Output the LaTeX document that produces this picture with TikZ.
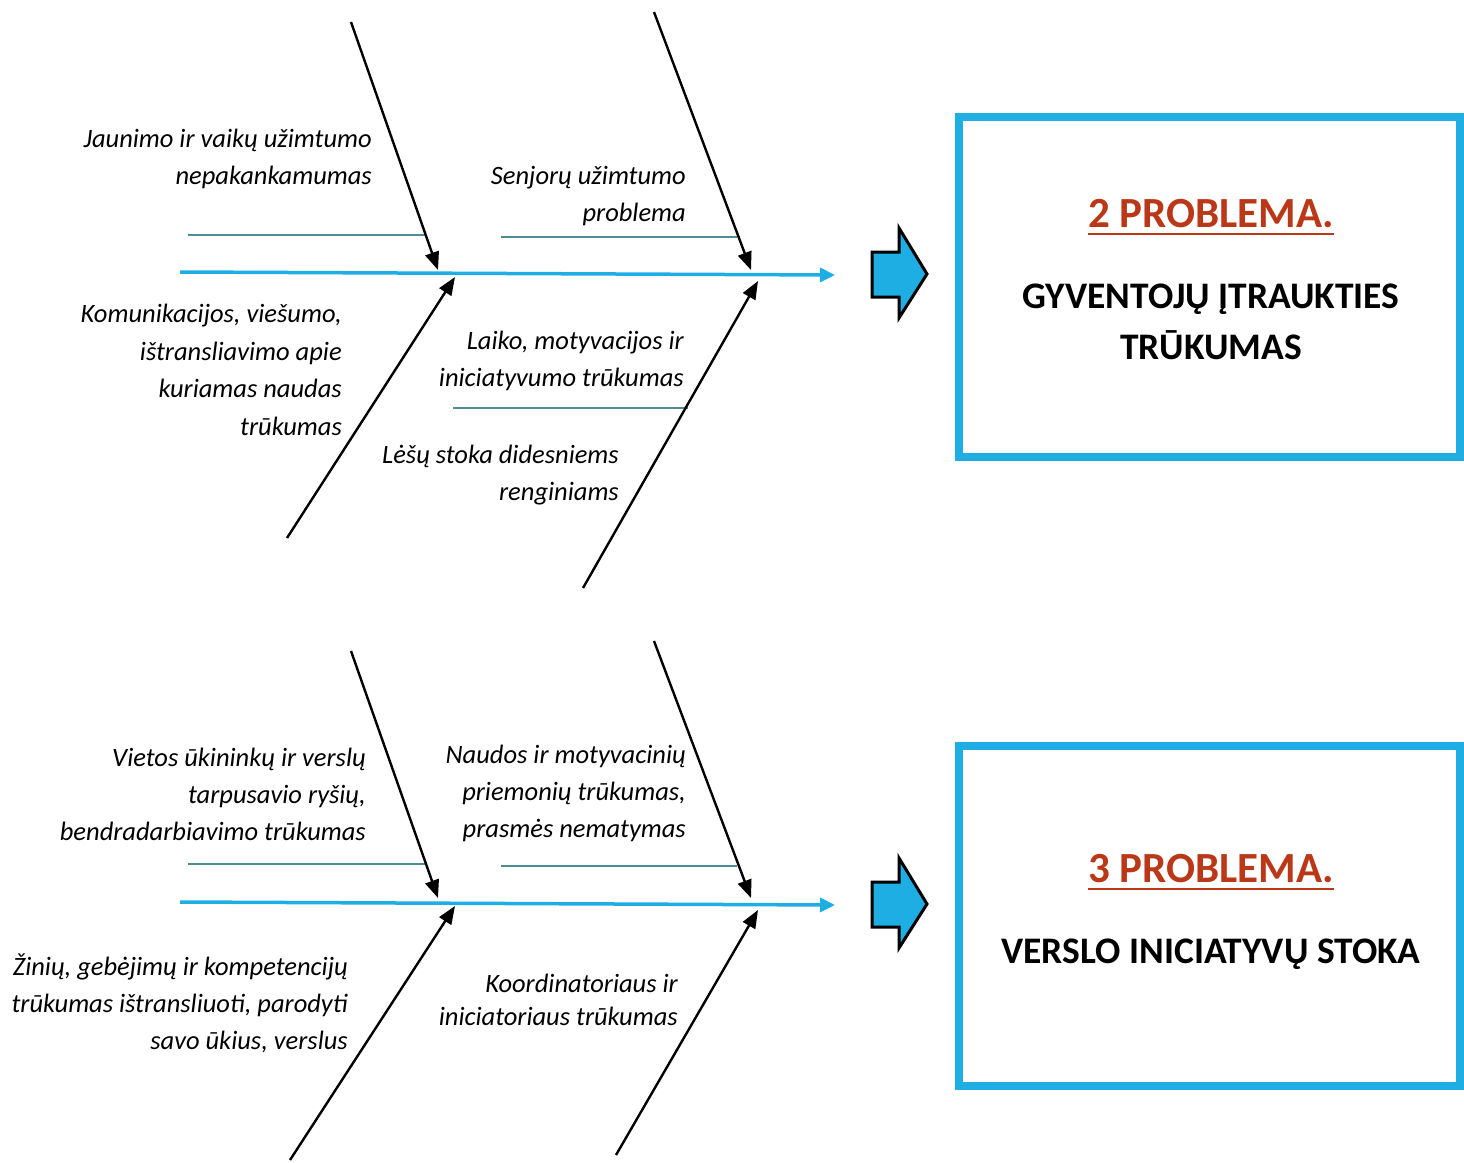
\documentclass[tikz,border=0pt]{standalone}
\usepackage{fontspec}
\setmainfont{Carlito}
\usetikzlibrary{arrows.meta,positioning}

\definecolor{spineblue}{RGB}{30,174,228}
\definecolor{ribteal}{RGB}{78,140,148}
\definecolor{probred}{RGB}{186,56,24}

\tikzset{
  cause/.style={font=\itshape\fontsize{26.5}{37}\selectfont, align=right, anchor=base east, inner sep=0pt},
  spine/.style={spineblue, line width=3.5pt, -{Triangle[length=15pt,width=14pt]}},
  bone/.style={black, line width=2.4pt, -{Triangle[length=18pt,width=14pt]}},
  rib/.style={ribteal, line width=1.2pt},
  probbox/.style={draw=spineblue, line width=8pt, minimum width=501pt, minimum height=340pt, inner sep=0pt},
  bigarrow/.style={fill=spineblue, draw=black, line width=3pt, line join=miter},
  probtitle/.style={font=\bfseries\fontsize{43}{48}\selectfont, text=probred, inner sep=0pt, anchor=base},
  probtext/.style={font=\bfseries\fontsize{37.5}{51}\selectfont, align=center, inner sep=0pt, anchor=base},
}

\begin{document}
\begin{tikzpicture}[x=1pt,y=-1pt]
  \useasboundingbox (0,0) rectangle (1464,1162);

  % Upper diagram
  \coordinate (s1a) at (180,272);
  \coordinate (s1b) at (835,275);
  \draw[spine] (s1a) -- (s1b);

  \coordinate (r1a) at (188,235);  \coordinate (r1b) at (425,235);
  \coordinate (r2a) at (501,237);  \coordinate (r2b) at (737,237);
  \coordinate (r3a) at (453,408);  \coordinate (r3b) at (688,408);
  \draw[rib] (r1a) -- (r1b);
  \draw[rib] (r2a) -- (r2b);
  \draw[rib] (r3a) -- (r3b);

  \coordinate (b1t) at (351,22);   \coordinate (b1h) at (438,270);
  \coordinate (b2t) at (654,12);   \coordinate (b2h) at (751,270);
  \coordinate (b3t) at (287,538);  \coordinate (b3h) at (455,277);
  \coordinate (b4t) at (583,588);  \coordinate (b4h) at (758,281);
  \draw[bone] (b1t) -- (b1h);
  \draw[bone] (b2t) -- (b2h);
  \draw[bone] (b3t) -- (b3h);
  \draw[bone] (b4t) -- (b4h);

  % causes (anchored at the baseline of the last line)
  \node[cause] (c1) at (372,184) {Jaunimo ir vaikų užimtumo\\nepakankamumas};
  \node[cause] (c2) at (686,221) {Senjorų užimtumo\\problema};
  \node[cause, font=\itshape\fontsize{26.5}{37.5}\selectfont] (c3) at (342,435) {Komunikacijos, viešumo,\\ištransliavimo apie\\kuriamas naudas\\trūkumas};
  \node[cause] (c4) at (684,386) {Laiko, motyvacijos ir\\iniciatyvumo trūkumas};
  \node[cause] (c5) at (619,500) {Lėšų stoka didesniems\\renginiams};

  \draw[bigarrow] (872,252) -- (899,252) -- (899,228) -- (927,274) -- (899,318) -- (899,297) -- (872,297) -- cycle;

  \node[probbox] (p2) at (1209.5,287) {};
  \node[probtitle] (p2t) at (1211,227) {2 PROBLEMA.};
  \draw[probred, line width=2.5pt] ([yshift=-7pt]p2t.base west) -- ([yshift=-7pt]p2t.base east);
  \node[probtext] (p2x) at (1211,359) {GYVENTOJŲ ĮTRAUKTIES\\TRŪKUMAS};

  % Lower diagram
  \coordinate (s2a) at (180,902);
  \coordinate (s2b) at (835,905);
  \draw[spine] (s2a) -- (s2b);

  \coordinate (r4a) at (188,864);  \coordinate (r4b) at (425,864);
  \coordinate (r5a) at (501,866);  \coordinate (r5b) at (737,866);
  \draw[rib] (r4a) -- (r4b);
  \draw[rib] (r5a) -- (r5b);

  \coordinate (b5t) at (351,651);  \coordinate (b5h) at (438,898);
  \coordinate (b6t) at (654,641);  \coordinate (b6h) at (751,898);
  \coordinate (b7t) at (290,1160); \coordinate (b7h) at (455,906);
  \coordinate (b8t) at (616,1155); \coordinate (b8h) at (758,910);
  \draw[bone] (b5t) -- (b5h);
  \draw[bone] (b6t) -- (b6h);
  \draw[bone] (b7t) -- (b7h);
  \draw[bone] (b8t) -- (b8h);

  \node[cause] (c6) at (366,840) {Vietos ūkininkų ir verslų\\tarpusavio ryšių,\\bendradarbiavimo trūkumas};
  \node[cause] (c7) at (686,837) {Naudos ir motyvacinių\\priemonių trūkumas,\\prasmės nematymas};
  \node[cause] (c8) at (348,1049) {Žinių, gebėjimų ir kompetencijų\\trūkumas ištransliuoti, parodyti\\savo ūkius, verslus};
  \node[cause, font=\itshape\fontsize{26.5}{33}\selectfont] (c9) at (678,1025) {Koordinatoriaus ir\\iniciatoriaus trūkumas};

  \draw[bigarrow] (872,882) -- (899,882) -- (899,858) -- (927,904) -- (899,948) -- (899,927) -- (872,927) -- cycle;

  \node[probbox] (p3) at (1209.5,916) {};
  \node[probtitle] (p3t) at (1211,882) {3 PROBLEMA.};
  \draw[probred, line width=2.5pt] ([yshift=-7pt]p3t.base west) -- ([yshift=-7pt]p3t.base east);
  \node[probtext] (p3x) at (1211,963) {VERSLO INICIATYVŲ STOKA};
\end{tikzpicture}
\end{document}
